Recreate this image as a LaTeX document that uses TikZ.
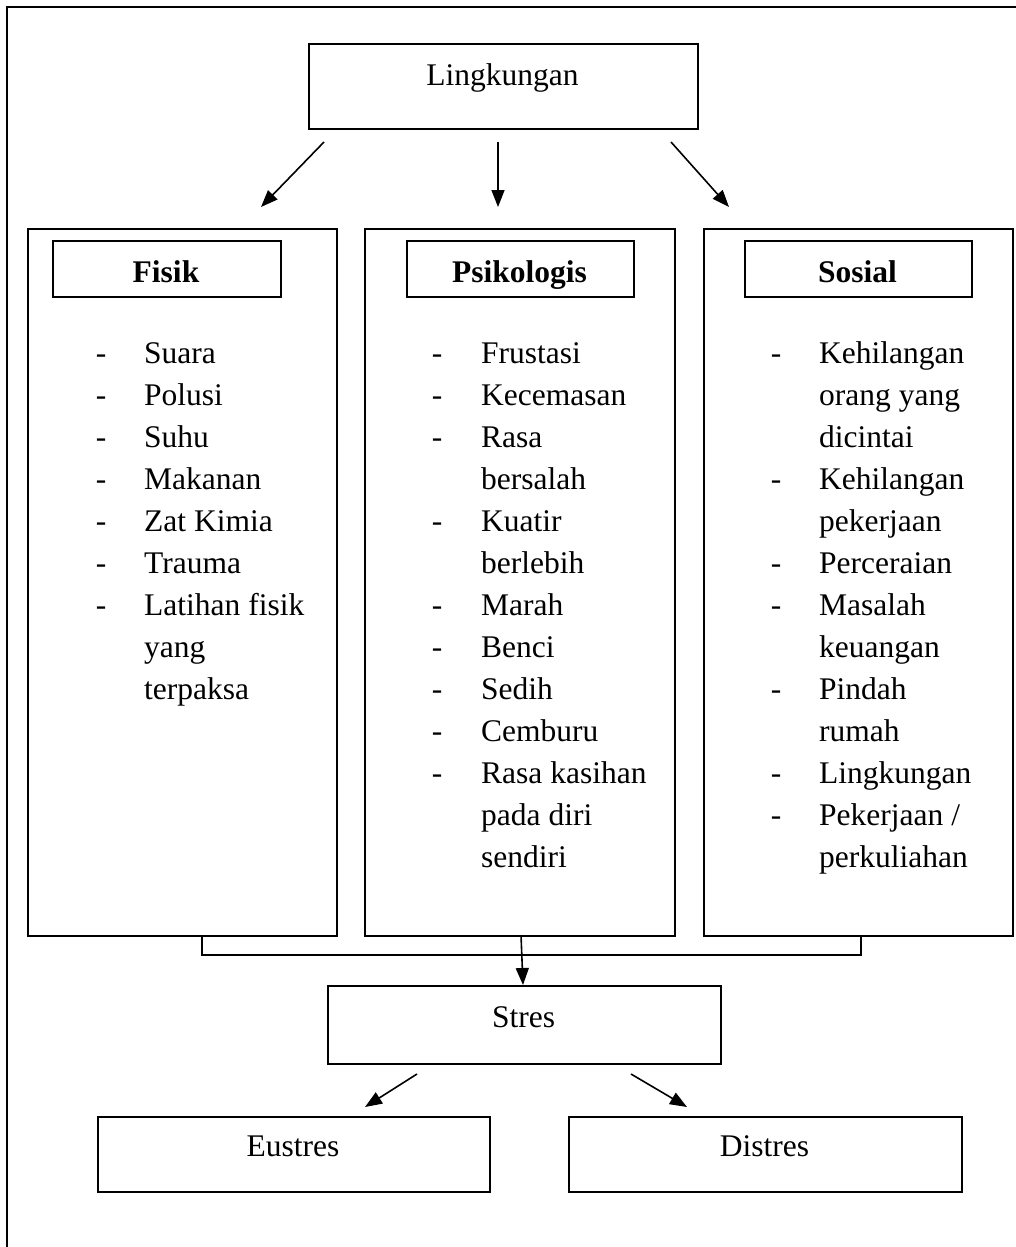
\documentclass[tikz,border=0pt]{standalone}
\usepackage{fontspec}
\setmainfont{Liberation Serif}
\usetikzlibrary{arrows.meta}
\begin{document}
\begin{tikzpicture}[x=1pt,y=-1pt,
  every node/.style={font=\fontsize{31.5}{42}\selectfont},
  boxn/.style={draw, line width=1.7pt, inner sep=0pt, anchor=north west},
  item/.style={anchor=base west, inner sep=0pt},
  dashn/.style={anchor=base, inner sep=0pt},
  lbl/.style={anchor=base, inner sep=0pt},
  hdr/.style={anchor=base, inner sep=0pt, font=\fontsize{31.5}{42}\selectfont\bfseries},
  arr/.style={line width=1.6pt, -{Triangle[length=17pt,width=13pt]}},
  lin/.style={line width=1.6pt}]
\useasboundingbox (0,0) rectangle (1016,1247);
% outer frame (partly outside the page)
\coordinate (fr1) at (7,1250);
\coordinate (fr2) at (7,7);
\coordinate (fr3) at (1020,7);
\draw[lin] (fr1) -- (fr2) -- (fr3);
% Lingkungan
\node[boxn, minimum width=389pt, minimum height=85pt] (ling) at (308,43) {};
\node[lbl] (lingt) at (502.5,85) {Lingkungan};
% columns
\node[boxn, minimum width=309pt, minimum height=707pt] (fis) at (27,228) {};
\node[boxn, minimum width=310pt, minimum height=707pt] (psi) at (364,228) {};
\node[boxn, minimum width=309pt, minimum height=707pt] (sos) at (703,228) {};
% headers
\node[boxn, minimum width=228pt, minimum height=56pt] (fish) at (52,240) {};
\node[boxn, minimum width=227pt, minimum height=56pt] (psih) at (406,240) {};
\node[boxn, minimum width=227pt, minimum height=56pt] (sosh) at (744,240) {};
\node[hdr] (fist) at (166,282) {Fisik};
\node[hdr] (psit) at (519.5,282) {Psikologis};
\node[hdr] (sost) at (857.5,282) {Sosial};
% arrows from Lingkungan
\coordinate (a1s) at (324,142); \coordinate (a1e) at (261,207);
\coordinate (a2s) at (498,142); \coordinate (a2e) at (498,207);
\coordinate (a3s) at (671,142); \coordinate (a3e) at (729,207);
\draw[arr] (a1s) -- (a1e);
\draw[arr] (a2s) -- (a2e);
\draw[arr] (a3s) -- (a3e);
% Fisik list
\foreach \t [count=\i] in {Suara,Polusi,Suhu,Makanan,Zat Kimia,Trauma,Latihan fisik,yang,terpaksa}
  \node[item] (fi\i) at (144,{321+42*\i}) {\t};
\foreach \i in {1,...,7}
  \node[dashn] (fd\i) at (101,{321+42*\i}) {-};
% Psikologis list
\foreach \t [count=\i] in {Frustasi,Kecemasan,Rasa,bersalah,Kuatir,berlebih,Marah,Benci,Sedih,Cemburu,Rasa kasihan,pada diri,sendiri}
  \node[item] (pi\i) at (481,{321+42*\i}) {\t};
\foreach \i in {1,2,3,5,7,8,9,10,11}
  \node[dashn] (pd\i) at (437,{321+42*\i}) {-};
% Sosial list
\foreach \t [count=\i] in {Kehilangan,orang yang,dicintai,Kehilangan,pekerjaan,Perceraian,Masalah,keuangan,Pindah,rumah,Lingkungan,Pekerjaan /,perkuliahan}
  \node[item] (si\i) at (819,{321+42*\i}) {\t};
\foreach \i in {1,4,6,7,9,11,12}
  \node[dashn] (sd\i) at (776,{321+42*\i}) {-};
% bracket connector
\coordinate (c1) at (202,935);
\coordinate (c2) at (202,955);
\coordinate (c3) at (861,955);
\coordinate (c4) at (861,935);
\draw[lin] (c1) -- (c2) -- (c3) -- (c4);
% Stres
\node[boxn, minimum width=393pt, minimum height=78pt] (str) at (327,985) {};
\node[lbl] (strt) at (523.5,1027) {Stres};
\coordinate (ms) at (521,935); \coordinate (me) at (523,985);
\draw[arr] (ms) -- (me);
% Eustres / Distres
\node[boxn, minimum width=392pt, minimum height=75pt] (eus) at (97,1116) {};
\node[boxn, minimum width=393pt, minimum height=75pt] (dis) at (568,1116) {};
\node[lbl] (eust) at (293,1156) {Eustres};
\node[lbl] (dist) at (764.5,1156) {Distres};
\coordinate (b1s) at (417,1074); \coordinate (b1e) at (365,1107);
\coordinate (b2s) at (631,1074); \coordinate (b2e) at (687,1107);
\draw[arr] (b1s) -- (b1e);
\draw[arr] (b2s) -- (b2e);
\end{tikzpicture}
\end{document}
